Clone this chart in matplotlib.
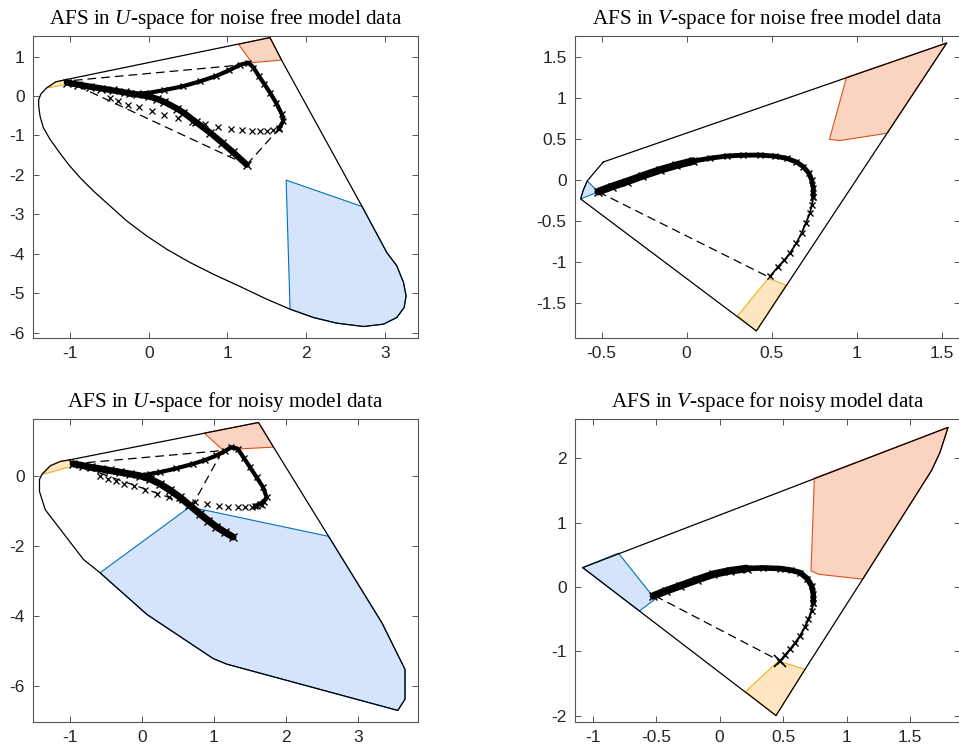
import matplotlib
matplotlib.use("Agg")
import matplotlib.pyplot as plt

plt.rcParams['axes.unicode_minus'] = False
plt.rcParams['mathtext.fontset'] = 'custom'
plt.rcParams['mathtext.rm'] = 'Liberation Serif'
plt.rcParams['mathtext.it'] = 'Liberation Serif:italic'

# ---------------- Panel 1: U-space, noise free ----------------
p1_title = "AFS in $U$-space for noise free model data"
p1_bound_x = [-1.04, -1.18, -1.30, -1.37, -1.398, -1.398, -1.381, -1.339, -1.254, -1.148, -1.021, -0.873, -0.704,
              -0.492, -0.280, -0.026, 0.228, 0.525, 0.821, 1.160, 1.499, 1.795, 2.092, 2.388, 2.727, 2.981, 3.151,
              3.244, 3.269, 3.236, 3.151, 3.024, 2.71, 1.69, 1.54, -1.04]
p1_bound_y = [0.42, 0.36, 0.20, 0.05, -0.10, -0.252, -0.506, -0.801, -1.096, -1.392, -1.729, -2.067, -2.404,
              -2.784, -3.164, -3.544, -3.881, -4.218, -4.514, -4.826, -5.147, -5.400, -5.611, -5.754, -5.839, -5.780,
              -5.611, -5.358, -5.063, -4.725, -4.303, -3.965, -2.80, 0.90, 1.48, 0.42]
p1_orange_x = [-1.02, -1.18, -1.30, -1.02]
p1_orange_y = [0.41, 0.36, 0.20, 0.30]
p1_red_x = [1.14, 1.54, 1.69, 1.31]
p1_red_y = [1.31, 1.48, 0.91, 0.845]
p1_blue_x = [1.745, 2.71, 3.024, 3.151, 3.236, 3.269, 3.244, 3.151, 2.981, 2.727, 2.388, 2.092, 1.795]
p1_blue_y = [-2.13, -2.80, -3.965, -4.303, -4.725, -5.063, -5.358, -5.611, -5.780, -5.839, -5.754, -5.611, -5.400]
p1_dash_x = [1.245, -1.04, 1.245, 1.65]
p1_dash_y = [0.80, 0.38, -1.74, -0.84]
p1_band_x = [-1.04, -0.90, -0.75, -0.60, -0.45, -0.30, -0.15, 0.00, 0.10, 0.20, 0.36, 0.44, 0.60, 0.78, 0.93, 1.075, 1.245]
p1_band_y = [0.34, 0.29, 0.24, 0.19, 0.14, 0.09, 0.04, -0.01, -0.07, -0.15, -0.32, -0.42, -0.66, -0.93, -1.18, -1.43, -1.74]
p1_upper_x = [-0.25, 0.017, 0.20, 0.44, 0.65, 0.86, 1.02, 1.16, 1.265, 1.33, 1.40, 1.47, 1.54, 1.62, 1.69, 1.71, 1.65]
p1_upper_y = [0.04, 0.086, 0.15, 0.25, 0.37, 0.51, 0.65, 0.79, 0.845, 0.72, 0.50, 0.30, 0.086, -0.18, -0.46, -0.63, -0.84]
p1_sparse_x = [-0.49, -0.386, -0.26, -0.12, 0.04, 0.19, 0.37, 0.55, 0.715, 0.88, 1.04, 1.19, 1.31, 1.41, 1.50, 1.575, 1.65]
p1_sparse_y = [-0.06, -0.127, -0.235, -0.29, -0.38, -0.48, -0.56, -0.66, -0.72, -0.78, -0.835, -0.87, -0.885, -0.885, -0.875, -0.86, -0.80]
p1_xticks = [-1, 0, 1, 2, 3]
p1_xlabels = ['-1', '0', '1', '2', '3']
p1_yticks = [-6, -5, -4, -3, -2, -1, 0, 1]
p1_ylabels = ['-6', '-5', '-4', '-3', '-2', '-1', '0', '1']

# ---------------- Panel 2: V-space, noise free ----------------
p2_title = "AFS in $V$-space for noise free model data"
p2_bound_x = [-0.49, 1.53, 0.41, -0.624, -0.608, -0.585, -0.54, -0.49]
p2_bound_y = [0.22, 1.67, -1.84, -0.231, -0.122, -0.012, 0.10, 0.22]
p2_blue_x = [-0.585, -0.52, -0.624, -0.608]
p2_blue_y = [-0.012, -0.145, -0.231, -0.122]
p2_red_x = [0.94, 1.53, 1.18, 0.90, 0.84]
p2_red_y = [1.25, 1.67, 0.57, 0.48, 0.495]
p2_orange_x = [0.48, 0.584, 0.41, 0.30]
p2_orange_y = [-1.20, -1.28, -1.84, -1.655]
p2_dash_x = [-0.52, 0.49]
p2_dash_y = [-0.145, -1.19]
p2_curve_x = [-0.52, -0.44, -0.353, -0.26, -0.157, -0.06, 0.039, 0.14, 0.235, 0.33, 0.431, 0.52, 0.588, 0.645,
              0.686, 0.72, 0.735, 0.745, 0.745, 0.737, 0.725, 0.70, 0.676, 0.645, 0.608, 0.575, 0.539, 0.49]
p2_curve_y = [-0.142, -0.08, -0.02, 0.05, 0.122, 0.18, 0.231, 0.266, 0.292, 0.302, 0.304, 0.29, 0.264, 0.22,
              0.162, 0.08, 0.0, -0.10, -0.203, -0.30, -0.405, -0.53, -0.649, -0.77, -0.892, -0.975, -1.055, -1.176]
p2_xticks = [-0.5, 0, 0.5, 1, 1.5]
p2_xlabels = ['-0.5', '0', '0.5', '1', '1.5']
p2_yticks = [-1.5, -1, -0.5, 0, 0.5, 1, 1.5]
p2_ylabels = ['-1.5', '-1', '-0.5', '0', '0.5', '1', '1.5']

# ---------------- Panel 3: U-space, noisy ----------------
p3_title = "AFS in $U$-space for noisy model data"
p3_bound_x = [-0.994, 1.618, 1.826, 2.59, 3.33, 3.65, 3.65, 3.55, 1.18, 0.99, 0.07, -0.58, -0.81, -1.34, -1.42, -1.42,
              -1.39, -1.27, -1.13, -0.994]
p3_bound_y = [0.456, 1.52, 0.817, -1.73, -4.20, -5.53, -6.38, -6.70, -5.38, -5.22, -3.96, -2.77, -2.39, -0.97, -0.45,
              -0.11, 0.03, 0.285, 0.41, 0.456]
p3_orange_x = [-0.95, -1.13, -1.27, -1.39, -0.95]
p3_orange_y = [0.46, 0.41, 0.285, 0.03, 0.28]
p3_red_x = [0.865, 1.618, 1.826, 1.12]
p3_red_y = [1.22, 1.52, 0.817, 0.74]
p3_blue_x = [-0.58, 0.664, 2.59, 3.33, 3.65, 3.65, 3.55, 1.18, 0.99, 0.07]
p3_blue_y = [-2.77, -0.89, -1.73, -4.20, -5.53, -6.38, -6.70, -5.38, -5.22, -3.96]
p3_dash_x = [-0.954, 1.12, 0.70, -0.954]
p3_dash_y = [0.34, 0.72, -0.85, 0.34]
p3_band_x = [-0.954, -0.82, -0.70, -0.57, -0.445, -0.30, -0.16, -0.03, 0.11, 0.248, 0.39, 0.526, 0.66, 0.80,
             0.92, 1.035, 1.15, 1.265]
p3_band_y = [0.34, 0.29, 0.24, 0.195, 0.15, 0.10, 0.05, 0.0, -0.09, -0.23, -0.41, -0.61, -0.84, -1.08,
             -1.28, -1.46, -1.61, -1.75]
p3_upper_x = [-0.03, 0.11, 0.248, 0.48, 0.71, 0.88, 1.035, 1.15, 1.24, 1.33, 1.41, 1.50, 1.59, 1.68, 1.73,
              1.69, 1.635, 1.57]
p3_upper_y = [0.0, 0.05, 0.10, 0.21, 0.34, 0.45, 0.58, 0.70, 0.815, 0.77, 0.52, 0.245, -0.04, -0.325, -0.61,
              -0.74, -0.80, -0.87]
p3_sparse_x = [-0.578, -0.476, -0.356, -0.245, -0.116, 0.046, 0.208, 0.37, 0.555, 0.74, 0.90, 1.063, 1.20, 1.327, 1.433, 1.526, 1.595, 1.664]
p3_sparse_y = [-0.019, -0.085, -0.161, -0.228, -0.304, -0.418, -0.513, -0.608, -0.703, -0.76, -0.807, -0.855, -0.883, -0.902, -0.902, -0.893, -0.874, -0.826]
p3_xticks = [-1, 0, 1, 2, 3]
p3_xlabels = ['-1', '0', '1', '2', '3']
p3_yticks = [-6, -4, -2, 0]
p3_ylabels = ['-6', '-4', '-2', '0']

# ---------------- Panel 4: V-space, noisy ----------------
p4_title = "AFS in $V$-space for noisy model data"
p4_bound_x = [-1.079, 1.80, 1.736, 1.67, 1.127, 0.673, 0.444, -1.079]
p4_bound_y = [0.30, 2.48, 2.09, 1.81, 0.12, -1.28, -2.0, 0.30]
p4_blue_x = [-1.079, -0.798, -0.509, -0.632]
p4_blue_y = [0.30, 0.525, -0.19, -0.374]
p4_red_x = [0.746, 1.80, 1.736, 1.67, 1.127, 0.778, 0.72]
p4_red_y = [1.69, 2.48, 2.09, 1.81, 0.12, 0.197, 0.25]
p4_orange_x = [0.463, 0.673, 0.444, 0.205]
p4_orange_y = [-1.153, -1.28, -2.0, -1.626]
p4_dash_x = [-0.509, 0.476]
p4_dash_y = [-0.14, -1.153]
p4_curve_x = [-0.522, -0.42, -0.312, -0.18, -0.05, 0.08, 0.213, 0.34, 0.476, 0.565, 0.633, 0.69, 0.725, 0.738,
              0.738, 0.725, 0.70, 0.67, 0.633, 0.595, 0.555, 0.515, 0.476]
p4_curve_y = [-0.14, -0.06, 0.016, 0.11, 0.197, 0.25, 0.286, 0.295, 0.286, 0.26, 0.223, 0.13, 0.016, -0.11,
              -0.244, -0.37, -0.504, -0.63, -0.764, -0.87, -0.97, -1.06, -1.153]
p4_xticks = [-1, -0.5, 0, 0.5, 1, 1.5]
p4_xlabels = ['-1', '-0.5', '0', '0.5', '1', '1.5']
p4_yticks = [-2, -1, 0, 1, 2]
p4_ylabels = ['-2', '-1', '0', '1', '2']

# ---------------- styles ----------------
ORANGE_FILL, ORANGE_EDGE = '#FDE6C1', '#EDB120'
RED_FILL, RED_EDGE = '#FBD3C1', '#D95319'
BLUE_FILL, BLUE_EDGE = '#D6E4FB', '#0072BD'
AX_COL = '#555555'
TXT_COL = '#262626'

fig = plt.figure(figsize=(9.59, 7.52), dpi=100)
W, H = 959.0, 752.0


def make_ax(left, top, right, bottom):
    return fig.add_axes([left / W, 1 - bottom / H, (right - left) / W, (bottom - top) / H])


def style(ax, title, xlim, ylim, xt, xl, yt, yl):
    ax.set_xlim(*xlim)
    ax.set_ylim(*ylim)
    ax.set_xticks(xt)
    ax.set_xticklabels(xl)
    ax.set_yticks(yt)
    ax.set_yticklabels(yl)
    ax.tick_params(direction='in', top=True, right=True, length=4, width=0.7,
                   colors=AX_COL, labelcolor=TXT_COL, labelsize=12.5, pad=6)
    for lab in ax.get_xticklabels() + ax.get_yticklabels():
        lab.set_fontfamily('Liberation Sans')
    for s in ax.spines.values():
        s.set_color(AX_COL)
        s.set_linewidth(0.8)
    ax.set_title(title, fontsize=15.2, family='Liberation Serif', color='black', pad=8.5)


def region(ax, xs, ys, fill, edge):
    ax.fill(xs, ys, facecolor=fill, edgecolor=edge, linewidth=0.8, zorder=1)


def boundary(ax, xs, ys):
    ax.plot(xs, ys, color='black', lw=0.9, zorder=3)


def dashed(ax, xs, ys):
    ax.plot(xs, ys, color='black', lw=0.9, ls=(0, (7, 4)), zorder=2)


def band(ax, xs, ys, lw, ms):
    ax.plot(xs, ys, color='black', lw=lw, marker='x', ms=ms, mew=1.0,
            solid_capstyle='round', solid_joinstyle='round', zorder=4)


# Panel 1
ax1 = make_ax(33, 36, 418, 338)
region(ax1, p1_orange_x, p1_orange_y, ORANGE_FILL, ORANGE_EDGE)
region(ax1, p1_red_x, p1_red_y, RED_FILL, RED_EDGE)
region(ax1, p1_blue_x, p1_blue_y, BLUE_FILL, BLUE_EDGE)
boundary(ax1, p1_bound_x, p1_bound_y)
dashed(ax1, p1_dash_x[:3], p1_dash_y[:3])
dashed(ax1, p1_dash_x[2:], p1_dash_y[2:])
ax1.plot(p1_sparse_x, p1_sparse_y, ls='none', marker='x', ms=5, mew=0.9, color='black', zorder=4)
band(ax1, p1_upper_x, p1_upper_y, 3.0, 5)
band(ax1, p1_band_x, p1_band_y, 4.5, 6)
style(ax1, p1_title, (-1.47, 3.42), (-6.13, 1.52), p1_xticks, p1_xlabels, p1_yticks, p1_ylabels)

# Panel 2
ax2 = make_ax(575, 36, 960, 338)
region(ax2, p2_blue_x, p2_blue_y, BLUE_FILL, BLUE_EDGE)
region(ax2, p2_red_x, p2_red_y, RED_FILL, RED_EDGE)
region(ax2, p2_orange_x, p2_orange_y, ORANGE_FILL, ORANGE_EDGE)
boundary(ax2, p2_bound_x, p2_bound_y)
dashed(ax2, p2_dash_x, p2_dash_y)
band(ax2, p2_curve_x[:7], p2_curve_y[:7], 5.5, 6)
band(ax2, p2_curve_x[6:19], p2_curve_y[6:19], 3.5, 5)
band(ax2, p2_curve_x[18:], p2_curve_y[18:], 1.3, 5)
style(ax2, p2_title, (-0.657, 1.608), (-1.926, 1.755), p2_xticks, p2_xlabels, p2_yticks, p2_ylabels)

# Panel 3
ax3 = make_ax(33, 419, 418, 722)
region(ax3, p3_orange_x, p3_orange_y, ORANGE_FILL, ORANGE_EDGE)
region(ax3, p3_red_x, p3_red_y, RED_FILL, RED_EDGE)
region(ax3, p3_blue_x, p3_blue_y, BLUE_FILL, BLUE_EDGE)
boundary(ax3, p3_bound_x, p3_bound_y)
dashed(ax3, p3_dash_x, p3_dash_y)
ax3.plot(p3_sparse_x, p3_sparse_y, ls='none', marker='x', ms=5, mew=0.9, color='black', zorder=4)
band(ax3, p3_upper_x, p3_upper_y, 3.0, 5)
band(ax3, p3_band_x, p3_band_y, 5.0, 6)
style(ax3, p3_title, (-1.51, 3.83), (-7.03, 1.62), p3_xticks, p3_xlabels, p3_yticks, p3_ylabels)

# Panel 4
ax4 = make_ax(575, 419, 960, 722)
region(ax4, p4_blue_x, p4_blue_y, BLUE_FILL, BLUE_EDGE)
region(ax4, p4_red_x, p4_red_y, RED_FILL, RED_EDGE)
region(ax4, p4_orange_x, p4_orange_y, ORANGE_FILL, ORANGE_EDGE)
boundary(ax4, p4_bound_x, p4_bound_y)
dashed(ax4, p4_dash_x, p4_dash_y)
band(ax4, p4_curve_x[:7], p4_curve_y[:7], 5.5, 6)
band(ax4, p4_curve_x[6:15], p4_curve_y[6:15], 4.0, 5)
band(ax4, p4_curve_x[14:], p4_curve_y[14:], 1.5, 5)
ax4.plot(p4_curve_x[-1:], p4_curve_y[-1:], ls='none', marker='x', ms=8, mew=1.2, color='black', zorder=5)
style(ax4, p4_title, (-1.14, 1.894), (-2.1, 2.61), p4_xticks, p4_xlabels, p4_yticks, p4_ylabels)

fig.savefig("out.png", dpi=100)
